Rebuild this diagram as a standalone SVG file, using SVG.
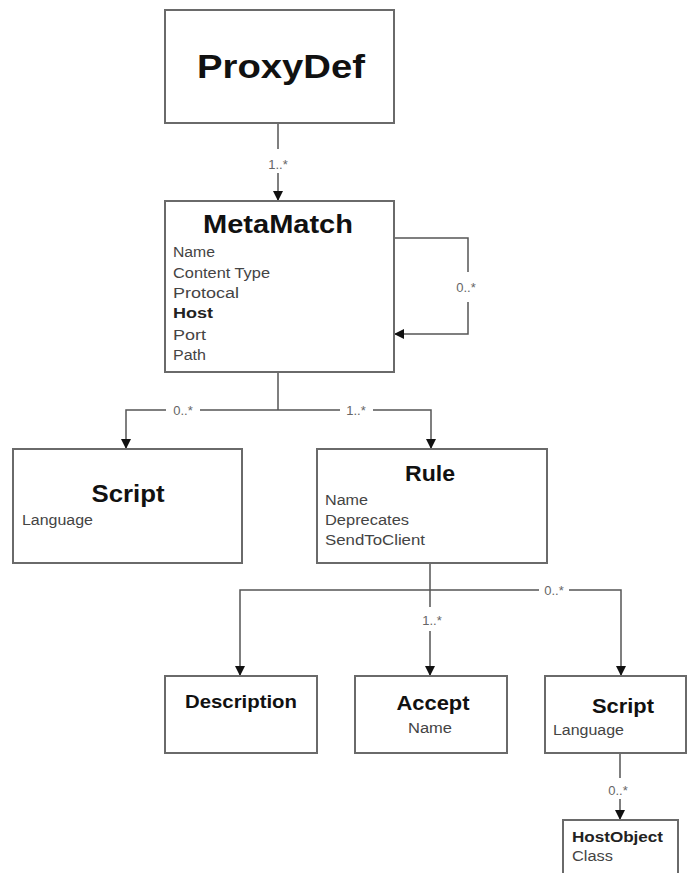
<svg xmlns="http://www.w3.org/2000/svg" width="688" height="873" viewBox="0 0 688 873">
<style>
.box{fill:#fff;stroke:#6a6a6a;stroke-width:2}
.t{font-family:"Liberation Sans",Arial,sans-serif;font-weight:bold;fill:#111;text-anchor:middle}
.a{font-family:"Liberation Sans",Arial,sans-serif;font-size:14px;fill:#444}
.ab{font-family:"Liberation Sans",Arial,sans-serif;font-size:14px;fill:#222;font-weight:bold}
.c{fill:none;stroke:#555;stroke-width:1.5}
.m{font-family:"Liberation Sans",Arial,sans-serif;font-size:13px;fill:#666;text-anchor:middle}
</style>
<defs>
<marker id="arr" markerUnits="userSpaceOnUse" markerWidth="10" markerHeight="10" refX="10" refY="5" orient="auto">
<path d="M0,0 L10,5 L0,10 z" fill="#111"/>
</marker>
</defs>
<rect width="688" height="873" fill="#fff"/>
<g id="connectors">
<path class="c" d="M278,123 V149"/>
<path class="c" d="M278,173 V201" marker-end="url(#arr)"/>
<text class="m" x="278" y="169">1..*</text>
<path class="c" d="M394,238 H468 V272"/>
<path class="c" d="M468,302 V334 H394" marker-end="url(#arr)"/>
<text class="m" x="466" y="292">0..*</text>
<path class="c" d="M278,372 V410"/>
<path class="c" d="M278,410 H200"/>
<path class="c" d="M166,410 H126 V449" marker-end="url(#arr)"/>
<text class="m" x="183" y="415">0..*</text>
<path class="c" d="M278,410 H340"/>
<path class="c" d="M373,410 H431 V449" marker-end="url(#arr)"/>
<text class="m" x="356" y="415">1..*</text>
<path class="c" d="M430,563 V607"/>
<path class="c" d="M430,631 V676" marker-end="url(#arr)"/>
<text class="m" x="432" y="625">1..*</text>
<path class="c" d="M430,590 H240 V676" marker-end="url(#arr)"/>
<path class="c" d="M430,590 H539"/>
<path class="c" d="M569,590 H621 V676" marker-end="url(#arr)"/>
<text class="m" x="554" y="595">0..*</text>
<path class="c" d="M620,753 V778"/>
<path class="c" d="M620,799 V820" marker-end="url(#arr)"/>
<text class="m" x="618" y="795">0..*</text>
</g>
<g id="proxydef">
<rect class="box" x="165" y="10" width="229" height="113"/>
<text class="t" x="281" y="78" font-size="33" textLength="168" lengthAdjust="spacingAndGlyphs">ProxyDef</text>
</g>
<g id="metamatch">
<rect class="box" x="165" y="201" width="229" height="171"/>
<text class="t" x="278" y="233" font-size="25" textLength="150" lengthAdjust="spacingAndGlyphs">MetaMatch</text>
<text class="a" x="173" y="257" textLength="42" lengthAdjust="spacingAndGlyphs">Name</text>
<text class="a" x="173" y="278" textLength="97" lengthAdjust="spacingAndGlyphs">Content Type</text>
<text class="a" x="173" y="298" textLength="66" lengthAdjust="spacingAndGlyphs">Protocal</text>
<text class="ab" x="173" y="318" textLength="40" lengthAdjust="spacingAndGlyphs">Host</text>
<text class="a" x="173" y="340" textLength="33" lengthAdjust="spacingAndGlyphs">Port</text>
<text class="a" x="173" y="360" textLength="33" lengthAdjust="spacingAndGlyphs">Path</text>
</g>
<g id="script1">
<rect class="box" x="13" y="449" width="229" height="114"/>
<text class="t" x="128" y="502" font-size="23" textLength="73" lengthAdjust="spacingAndGlyphs">Script</text>
<text class="a" x="22" y="525" textLength="71" lengthAdjust="spacingAndGlyphs">Language</text>
</g>
<g id="rule">
<rect class="box" x="317" y="449" width="230" height="114"/>
<text class="t" x="430" y="481" font-size="22" textLength="50" lengthAdjust="spacingAndGlyphs">Rule</text>
<text class="a" x="325" y="505" textLength="43" lengthAdjust="spacingAndGlyphs">Name</text>
<text class="a" x="325" y="525" textLength="84" lengthAdjust="spacingAndGlyphs">Deprecates</text>
<text class="a" x="325" y="545" textLength="100" lengthAdjust="spacingAndGlyphs">SendToClient</text>
</g>
<g id="description">
<rect class="box" x="165" y="676" width="152" height="77"/>
<text class="t" x="241" y="708" font-size="19" textLength="112" lengthAdjust="spacingAndGlyphs">Description</text>
</g>
<g id="accept">
<rect class="box" x="355" y="676" width="152" height="77"/>
<text class="t" x="433" y="710" font-size="20" textLength="73" lengthAdjust="spacingAndGlyphs">Accept</text>
<text class="a" x="430" y="733" text-anchor="middle" textLength="44" lengthAdjust="spacingAndGlyphs">Name</text>
</g>
<g id="script2">
<rect class="box" x="545" y="676" width="141" height="77"/>
<text class="t" x="623" y="713" font-size="20" textLength="62" lengthAdjust="spacingAndGlyphs">Script</text>
<text class="a" x="553" y="735" textLength="71" lengthAdjust="spacingAndGlyphs">Language</text>
</g>
<g id="hostobject">
<rect class="box" x="563" y="820" width="115" height="60"/>
<text class="ab" x="572" y="842" textLength="91" lengthAdjust="spacingAndGlyphs">HostObject</text>
<text class="a" x="572" y="861" textLength="41" lengthAdjust="spacingAndGlyphs">Class</text>
</g>
</svg>
